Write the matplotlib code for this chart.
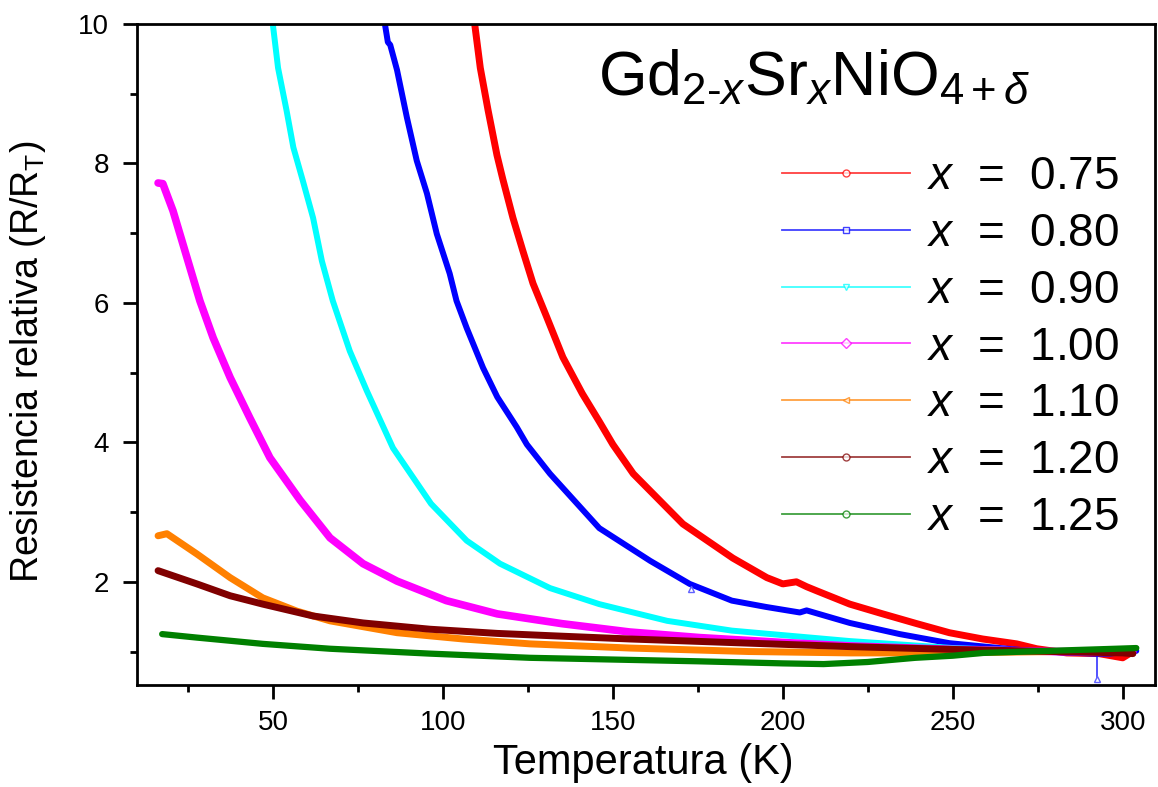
import matplotlib
matplotlib.use("Agg")
import matplotlib.pyplot as plt
from matplotlib.lines import Line2D
from matplotlib.ticker import MultipleLocator

plt.rcParams['font.family'] = ['Liberation Sans', 'DejaVu Sans']
plt.rcParams['mathtext.fontset'] = 'custom'
plt.rcParams['mathtext.rm'] = 'Liberation Sans'
plt.rcParams['mathtext.it'] = 'Liberation Sans:italic'
plt.rcParams['mathtext.bf'] = 'Liberation Sans:bold'

# ---------------- data ----------------
labels = ["0.75", "0.80", "0.90", "1.00", "1.10", "1.20", "1.25"]
colors = ["#ff0000", "#0000ff", "#00ffff", "#ff00ff", "#ff8000", "#800000", "#008000"]
legend_markers = ["o", "s", "v", "D", "<", "o", "o"]

T_075 = [109.4, 111, 113.3, 115.9, 117.6, 120.6, 123.5, 126.5, 130.6, 135.3, 141.0, 146.0,
         150.0, 156.0, 170.6, 185.3, 195.3, 200.0, 204.0, 207.0, 210.0, 219.7, 229.4, 239.4,
         249.0, 258.8, 268.8, 274.7, 283.5, 293.0, 300.0, 302.0]
R_075 = [9.98, 9.37, 8.76, 8.12, 7.78, 7.22, 6.75, 6.28, 5.79, 5.22, 4.70, 4.30,
         3.97, 3.55, 2.83, 2.34, 2.06, 1.97, 2.00, 1.93, 1.87, 1.68, 1.54, 1.40,
         1.27, 1.18, 1.11, 1.04, 0.98, 0.97, 0.91, 0.97]

T_080 = [83.0, 83.8, 84.5, 86.5, 89.4, 92.3, 95.3, 98.2, 102.0, 104.0, 107.0, 111.8, 116.0,
         121.7, 124.7, 131.5, 146.0, 161.0, 172.6, 185.0, 195.0, 205.0, 207.0,
         219.7, 234.4, 249.0, 263.8, 275.0, 292.0, 296.0, 304.0]
R_080 = [9.98, 9.74, 9.70, 9.34, 8.66, 8.04, 7.57, 6.99, 6.42, 6.03, 5.64, 5.07, 4.65,
         4.22, 3.97, 3.55, 2.77, 2.30, 1.97, 1.73, 1.64, 1.56, 1.59,
         1.41, 1.25, 1.12, 1.05, 1.00, 0.97, 0.97, 1.01]
# isolated low points of the x = 0.80 run
T_080_out = [173.0, 292.4]
R_080_out = [1.89, 0.61]

T_090 = [50.0, 51.5, 54.0, 56.0, 58.8, 61.8, 64.4, 67.6, 72.6, 77.6, 85.3, 96.5, 107.0,
         116.8, 131.5, 146.0, 166.0, 185.0, 219.7, 250.0, 280.0, 300.0, 303.0]
R_090 = [9.98, 9.37, 8.76, 8.23, 7.75, 7.22, 6.60, 6.03, 5.31, 4.74, 3.92, 3.12, 2.59,
         2.26, 1.91, 1.68, 1.44, 1.30, 1.15, 1.05, 1.00, 0.98, 1.00]

T_100 = [16.2, 17.6, 20.6, 24.7, 28.5, 32.4, 37.4, 43.2, 49.1, 58.0, 66.8, 76.5, 86.5,
         101.0, 116.0, 135.0, 155.0, 175.6, 200.0, 220.0, 250.0, 280.0, 300.0, 303.0]
R_100 = [7.72, 7.71, 7.32, 6.65, 6.03, 5.50, 4.93, 4.35, 3.78, 3.17, 2.63, 2.26, 2.01,
         1.73, 1.54, 1.40, 1.28, 1.20, 1.13, 1.08, 1.03, 1.00, 0.99, 1.00]

T_110 = [16.2, 18.8, 27.6, 37.4, 47.0, 57.0, 66.8, 86.5, 105.9, 125.6, 155.0, 190.0,
         220.0, 250.0, 280.0, 300.0]
R_110 = [2.66, 2.69, 2.40, 2.06, 1.77, 1.58, 1.44, 1.27, 1.18, 1.11, 1.05, 1.00,
         0.98, 0.98, 1.00, 1.00]

T_120 = [16.2, 27.6, 37.4, 47.0, 61.8, 76.5, 96.2, 116.0, 135.0, 155.0, 190.0, 220.0,
         250.0, 280.0, 300.0, 303.0]
R_120 = [2.16, 1.97, 1.80, 1.68, 1.51, 1.41, 1.32, 1.26, 1.22, 1.18, 1.12, 1.07,
         1.03, 1.00, 0.98, 0.97]

T_125 = [17.4, 27.6, 47.0, 66.8, 96.2, 125.6, 155.0, 175.0, 200.0, 212.0, 225.0, 239.0,
         250.0, 259.0, 278.5, 298.0, 304.0]
R_125 = [1.25, 1.20, 1.11, 1.04, 0.97, 0.91, 0.88, 0.86, 0.83, 0.82, 0.85, 0.91,
         0.94, 0.98, 1.01, 1.04, 1.05]

series_T = [T_075, T_080, T_090, T_100, T_110, T_120, T_125]
series_R = [R_075, R_080, R_090, R_100, R_110, R_120, R_125]
widths = [5.0, 4.3, 4.3, 5.5, 5.0, 5.0, 4.5]

# ---------------- figure ----------------
fig = plt.figure(figsize=(11.58, 7.87), dpi=100)
ax = fig.add_axes([137 / 1158, 1 - 685 / 787, (1155 - 137) / 1158, (685 - 24) / 787])

for i, (T, R, c, lw) in enumerate(zip(series_T, series_R, colors, widths)):
    ax.plot(T, R, color=c, lw=lw, solid_capstyle='round', solid_joinstyle='round')
    if i == 1:
        # thin drops to the isolated points of x = 0.80
        for t, r in zip(T_080_out, R_080_out):
            ax.vlines(t, r, r + 0.36 if r < 1 else r + 0.08, color=c, lw=1.2, alpha=0.8)
        ax.plot(T_080_out, R_080_out, ls='none', marker='^', ms=5, mfc='white',
                mec='#6060ff', mew=1)

ax.set_xlim(10, 309.5)
ax.set_ylim(0.52, 10)
ax.xaxis.set_major_locator(MultipleLocator(50))
ax.xaxis.set_minor_locator(MultipleLocator(25))
ax.yaxis.set_major_locator(MultipleLocator(2))
ax.yaxis.set_minor_locator(MultipleLocator(1))
ax.tick_params(which='major', direction='out', length=10, width=2, labelsize=20)
ax.tick_params(axis='x', which='major', pad=8)
ax.tick_params(axis='y', which='major', pad=10)
ax.tick_params(which='minor', direction='out', length=5, width=2)
ax.tick_params(top=False, right=False)
for s in ax.spines.values():
    s.set_linewidth(2)

ax.set_xlabel('Temperatura (K)', fontsize=30)
ax.xaxis.set_label_coords(0.497, -0.088)
ax.set_ylabel(r'Resistencia relativa (R/R$_\mathrm{T}$)', fontsize=27)
ax.yaxis.set_label_coords(-0.087, 0.489)

handles = [Line2D([], [], color=c, lw=1.3, alpha=0.75, marker=m, markersize=5,
                  markerfacecolor='white', markeredgecolor=c)
           for c, m in zip(colors, legend_markers)]
leg = fig.legend(handles, [r'$x$  =  ' + l for l in labels],
                 loc='upper left', bbox_to_anchor=(782 / 1158, 1 - 155 / 787),
                 frameon=False, fontsize=33, handlelength=2.8, handletextpad=0.37,
                 labelspacing=0.28, borderpad=0, borderaxespad=0)

fig.text(598 / 1158, 1 - 95 / 787,
         r'$\mathrm{Gd}_{\mathrm{2\text{-}}x}\mathrm{Sr}_{x}\mathrm{NiO}_{\mathrm{4+}\delta}$',
         fontsize=45, ha='left', va='baseline')

fig.savefig('out.png', dpi=100)
